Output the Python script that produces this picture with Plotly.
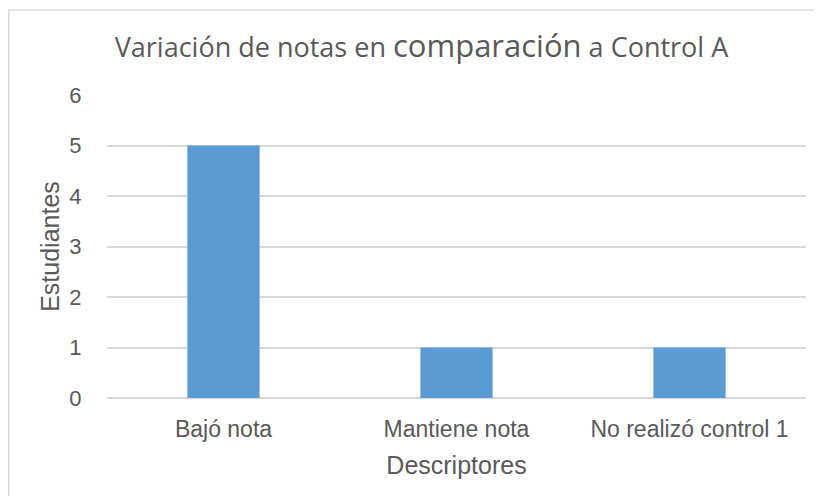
import plotly.graph_objects as go

# data
categories = ["Bajó nota", "Mantiene nota", "No realizó control 1"]
students = [5, 1, 1]
y_ticks = [0, 1, 2, 3, 4, 5, 6]

BAR = "#5B9BD5"
GRID = "#D9D9D9"
TEXT = "#595959"

# the page body adds an 8px offset, so the figure is 8px smaller
W, H = 814, 488

fig = go.Figure(go.Bar(
    x=categories, y=students,
    marker=dict(color=BAR, line=dict(width=0)),
    hoverinfo="x+y",
))

fig.update_layout(
    width=W, height=H,
    paper_bgcolor="white", plot_bgcolor="white",
    margin=dict(l=99, r=16, t=87, b=98),
    bargap=0.69,
    showlegend=False,
    title=dict(
        text="Variación de notas en <span style='font-size:31px'>comparación</span> a Control A",
        x=413.5 / W, xref="container", xanchor="center",
        y=1 - 40 / H, yref="container", yanchor="middle",
        font=dict(family="Open Sans, sans-serif", size=27, color=TEXT),
    ),
    font=dict(family="Liberation Sans, Arial, sans-serif", color=TEXT),
    xaxis=dict(
        showgrid=False, showline=False, zeroline=False,
        tickfont=dict(size=23, color=TEXT),
        ticks="outside", ticklen=10, tickcolor="rgba(0,0,0,0)",
        title=dict(text="Descriptores", font=dict(size=25, color=TEXT), standoff=15),
    ),
    yaxis=dict(
        range=[0, 6], tickvals=y_ticks,
        showgrid=True, gridcolor=GRID, gridwidth=1.5,
        zeroline=True, zerolinecolor=GRID, zerolinewidth=1.5,
        showline=False,
        tickfont=dict(size=22, color=TEXT),
        ticks="outside", ticklen=20, tickcolor="rgba(0,0,0,0)",
        title=dict(text="Estudiantes", font=dict(size=25, color=TEXT), standoff=2),
    ),
    shapes=[dict(
        type="rect", xref="paper", yref="paper",
        x0=(0.8 - 99) / 699, x1=1.2,
        y0=-0.5, y1=(389.7 - 1.5) / 303.1,
        line=dict(color=GRID, width=1.5), fillcolor="rgba(0,0,0,0)",
        layer="below",
    )],
)

fig.write_html("out.html")
